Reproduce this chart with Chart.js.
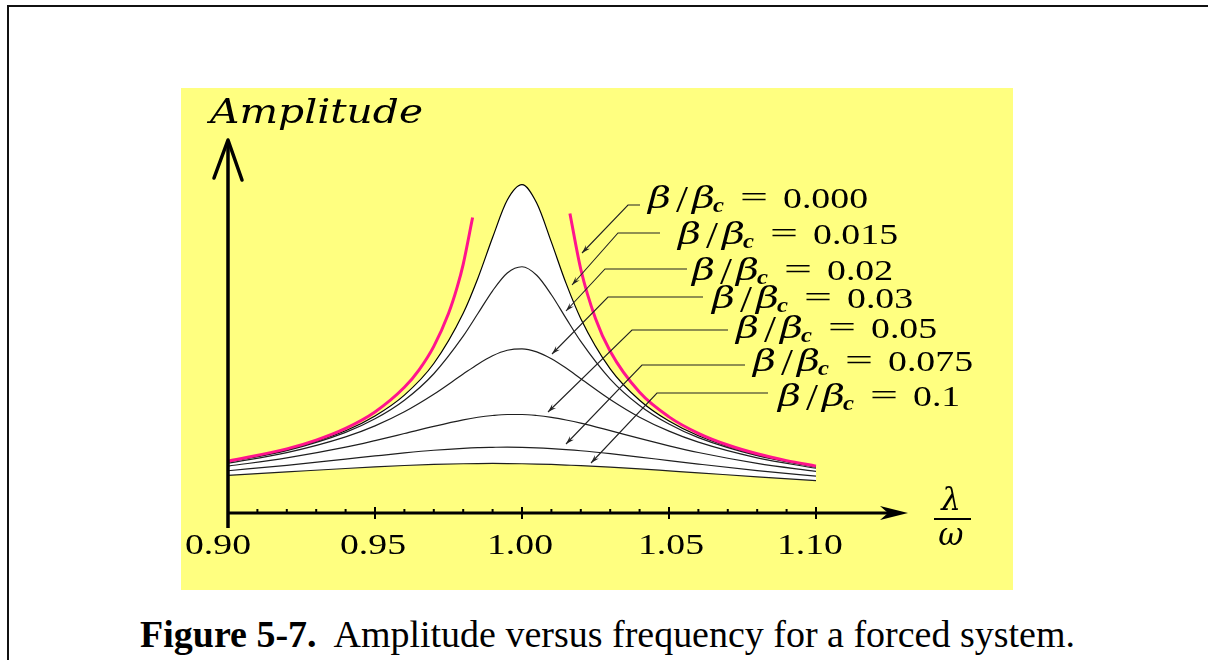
<!DOCTYPE html>
<html>
<head>
<meta charset="utf-8">
<script src="https://cdn.jsdelivr.net/npm/chart.js@4.4.1/dist/chart.umd.min.js"></script>
<style>
  html, body { margin:0; padding:0; background:#fff; }
  body { width:1208px; height:660px; position:relative; overflow:hidden; }
  #frame { position:absolute; left:7px; top:5px; width:1300px; height:700px; border-left:2px solid #111; border-top:2px solid #111; }
  #plot { position:absolute; left:181px; top:88px; width:832px; height:502px; background:#ffff80; }
  #caption { position:absolute; left:140px; top:616px; white-space:nowrap; font-family:"Liberation Serif", serif;
             font-size:37px; line-height:37px; color:#000; transform-origin:0 0; }
</style>
</head>
<body>
<div id="frame"></div>
<div id="plot"><canvas id="chart" width="832" height="502"></canvas></div>
<div id="caption"><b>Figure 5-7.</b>&nbsp; Amplitude versus frequency for a forced system.</div>

<script>
/* ---- data ---- */
const ratio = [0.90,0.92,0.94,0.95,0.96,0.97,0.98,0.985,0.99,0.995,1.00,1.005,1.01,1.015,1.02,1.03,1.04,1.05,1.06,1.08,1.10];

const amp015 = [5.21,6.41,8.35,9.85,11.97,15.18,20.28,23.84,27.97,31.77,33.33,31.47,27.50,23.31,19.73,14.64,11.45,9.33,7.84,5.90,4.70];
const amp02  = [5.17,6.33,8.18,9.56,11.45,14.14,17.95,20.25,22.56,24.37,25.00,24.14,22.16,19.76,17.42,13.60,10.92,9.03,7.65,5.82,4.66];
const amp03  = [5.06,6.13,7.73,8.85,10.28,12.06,14.11,15.11,15.96,16.52,16.67,16.36,15.66,14.71,13.64,11.53,9.73,8.31,7.19,5.60,4.54];
const amp05  = [4.76,5.59,6.68,7.35,8.07,8.80,9.46,9.72,9.90,10.00,10.00,9.90,9.71,9.44,9.12,8.36,7.57,6.82,6.14,5.04,4.22];
const amp075 = [4.29,4.84,5.47,5.79,6.10,6.37,6.57,6.64,6.67,6.69,6.67,6.62,6.54,6.44,6.32,6.02,5.68,5.32,4.97,4.31,3.74];
const amp10  = [3.82,4.17,4.52,4.68,4.82,4.93,5.00,5.02,5.03,5.02,5.00,4.97,4.93,4.87,4.81,4.66,4.48,4.28,4.08,3.67,3.29];

// undamped (beta = 0) – two branches either side of resonance
const ratioLeft  = [0.90,0.92,0.93,0.94,0.95,0.96,0.965,0.97,0.975,0.978,0.98,0.9832];
const ampLeft    = [5.26,6.51,7.40,8.59,10.26,12.76,14.54,16.92,20.25,22.98,25.25,30.0];
const ratioRight = [1.0163,1.02,1.025,1.03,1.04,1.05,1.06,1.07,1.08,1.09,1.10];
const ampRight   = [30.4,24.75,19.75,16.42,12.25,9.76,8.09,6.90,6.01,5.32,4.76];

const dampingLabels = ["0.000","0.015","0.02","0.03","0.05","0.075","0.1"];
const xTickValues = [0.90,0.95,1.00,1.05,1.10];
const xTickLabels = ["0.90","0.95","1.00","1.05","1.10"];

/* ---- helpers ---- */
function pts(xs, ys){ return xs.map((v,i)=>({x:v, y:ys[i]})); }

function fitText(ctx, text, font, x, y, width, align){
  ctx.save();
  ctx.font = font;
  const w = ctx.measureText(text).width;
  const left = align === "center" ? x - width/2 : x;
  ctx.translate(left, y);
  ctx.scale(width / w, 1);
  ctx.textAlign = "left";
  ctx.textBaseline = "alphabetic";
  ctx.fillText(text, 0, 0);
  ctx.restore();
}

function seg(ctx, x1, y1, x2, y2){
  ctx.beginPath(); ctx.moveTo(x1, y1); ctx.lineTo(x2, y2); ctx.stroke();
}

/* canvas sits at (181,88) on the page; annotation layout is in page pixels */
const OX = 181, OY = 88;
const SERIF = '"Liberation Serif"';
const leaders = [
  {tip:[582,253], elbow:[628,205], end:640, left:648, base:208},
  {tip:[572,285], elbow:[618,233], end:660, left:678, base:244},
  {tip:[566,311], elbow:[605,269], end:687, left:692, base:280},
  {tip:[552,354], elbow:[608,297], end:703, left:712, base:308},
  {tip:[548,412], elbow:[632,330], end:728, left:736, base:338},
  {tip:[566,444], elbow:[642,365], end:745, left:753, base:371},
  {tip:[591,463], elbow:[657,393], end:768, left:778, base:406}
];

/* ---- axes, ticks, axis titles ---- */
const axesPlugin = {
  id: "axes",
  afterDatasetsDraw(chart){
    const {ctx, scales:{x, y}} = chart;
    const x0 = x.getPixelForValue(0.9), y0 = y.getPixelForValue(0);
    const xEnd = x.getPixelForValue(x.max), yTop = y.getPixelForValue(y.max);
    ctx.save();
    ctx.strokeStyle = "#000"; ctx.fillStyle = "#000";

    // vertical axis + open arrow
    ctx.lineWidth = 3.5;
    seg(ctx, x0, y0 + 15, x0, yTop + 2);
    ctx.lineCap = "round"; ctx.lineJoin = "round";
    ctx.beginPath(); ctx.moveTo(x0 - 14, yTop + 38); ctx.lineTo(x0, yTop); ctx.lineTo(x0 + 14, yTop + 40); ctx.stroke();

    // horizontal axis + dart
    ctx.lineCap = "butt"; ctx.lineWidth = 3;
    seg(ctx, x0 - 1, y0, xEnd - 20, y0);
    ctx.beginPath();
    ctx.moveTo(xEnd, y0); ctx.lineTo(xEnd - 28, y0 - 7); ctx.lineTo(xEnd - 20, y0); ctx.lineTo(xEnd - 28, y0 + 7);
    ctx.closePath(); ctx.fill();

    // ticks
    ctx.lineWidth = 2;
    for(let k = 1; k < 20; k++){
      if(k % 5 === 0) continue;
      const p = x.getPixelForValue(0.9 + k * 0.01);
      seg(ctx, p, y0 - 4, p, y0);
    }
    xTickValues.slice(1).forEach(v=>{
      const p = x.getPixelForValue(v);
      seg(ctx, p, y0 - 6, p, y0 + 6);
    });

    // tick labels
    const shift = [-10, -2, -2, 2, -6];
    xTickValues.forEach((v, i)=>{
      fitText(ctx, xTickLabels[i], "30px " + SERIF, x.getPixelForValue(v) + shift[i], 554 - OY, 66, "center");
    });

    // axis titles
    fitText(ctx, "Amplitude", 'italic 34px "DejaVu Serif"', 210 - OX, 123 - OY, 213, "left");
    ctx.font = 'italic 31px "DejaVu Serif"'; ctx.textAlign = "center"; ctx.textBaseline = "alphabetic";
    ctx.fillText("λ", 951 - OX, 510 - OY);
    ctx.fillText("ω", 951 - OX, 545 - OY);
    ctx.lineWidth = 2;
    seg(ctx, 934 - OX, 519 - OY, 971 - OX, 519 - OY);
    ctx.restore();
  }
};

/* ---- beta labels with leader arrows ---- */
const labelPlugin = {
  id: "betaLabels",
  afterDatasetsDraw(chart){
    const ctx = chart.ctx;
    ctx.save();
    leaders.forEach((m, i)=>{
      const tx = m.tip[0] - OX, ty = m.tip[1] - OY;
      const ex = m.elbow[0] - OX, ey = m.elbow[1] - OY;
      ctx.strokeStyle = "#222"; ctx.fillStyle = "#222"; ctx.lineWidth = 1.1;
      ctx.beginPath(); ctx.moveTo(m.end - OX, ey); ctx.lineTo(ex, ey); ctx.lineTo(tx, ty); ctx.stroke();
      // arrow head
      const a = Math.atan2(ty - ey, tx - ex), L = 9, h = 0.3;
      ctx.beginPath();
      ctx.moveTo(tx, ty);
      ctx.lineTo(tx - L * Math.cos(a - h), ty - L * Math.sin(a - h));
      ctx.lineTo(tx - L * 0.6 * Math.cos(a), ty - L * 0.6 * Math.sin(a));
      ctx.lineTo(tx - L * Math.cos(a + h), ty - L * Math.sin(a + h));
      ctx.closePath(); ctx.fill();

      // text  β/β_c = value
      const lx = m.left - OX, by = m.base - OY;
      ctx.fillStyle = "#000";
      fitText(ctx, "β", 'italic 29px "DejaVu Serif"', lx, by, 23, "left");
      fitText(ctx, "/", "38px " + SERIF, lx + 28, by + 4, 12, "left");
      fitText(ctx, "β", 'italic 29px "DejaVu Serif"', lx + 44, by, 23, "left");
      fitText(ctx, "c", "italic bold 20px " + SERIF, lx + 65, by + 4, 11, "left");
      fitText(ctx, "=", "30px " + SERIF, lx + 106, by - 1, 28, "center");
      ctx.save();
      ctx.font = "30px " + SERIF;
      ctx.textAlign = "left"; ctx.textBaseline = "alphabetic";
      ctx.translate(lx + 135, by); ctx.scale(1.26, 1);
      ctx.fillText(dampingLabels[i], 0, 0);
      ctx.restore();
    });
    ctx.restore();
  }
};

/* ---- chart ---- */
const curve = "#1f1f1f";
const pink = "#ff148c";
const line = (label, xs, ys, color, width, extra) => Object.assign({
  label, data: pts(xs, ys), borderColor: color, borderWidth: width,
  pointRadius: 0, fill: false, cubicInterpolationMode: "monotone", borderJoinStyle: "round"
}, extra || {});

new Chart(document.getElementById("chart"), {
  type: "line",
  data: {
    datasets: [
      line("0.000 left", ratioLeft, ampLeft, pink, 3),
      line("0.000 right", ratioRight, ampRight, pink, 3),
      line("0.015", ratio, amp015, "#000", 1.2, {fill: 7, backgroundColor: "#ffffff"}),
      line("0.02", ratio, amp02, curve, 1.2),
      line("0.03", ratio, amp03, curve, 1.2),
      line("0.05", ratio, amp05, curve, 1.2),
      line("0.075", ratio, amp075, curve, 1.2),
      line("0.1", ratio, amp10, curve, 1.2)
    ]
  },
  options: {
    responsive: false,
    animation: false,
    events: [],
    layout: { padding: { left: 47, top: 52, right: 105, bottom: 77 } },
    scales: {
      x: { type: "linear", display: false, min: 0.9, max: 1.1313 },
      y: { type: "linear", display: false, min: 0, max: 37.87 }
    },
    plugins: {
      legend: { display: false },
      tooltip: { enabled: false },
      filler: { drawTime: "beforeDatasetsDraw" }
    }
  },
  plugins: [axesPlugin, labelPlugin]
});

/* caption width to match the figure */
const cap = document.getElementById("caption");
cap.style.transform = "scaleX(" + (935 / cap.getBoundingClientRect().width) + ")";
</script>
</body>
</html>
